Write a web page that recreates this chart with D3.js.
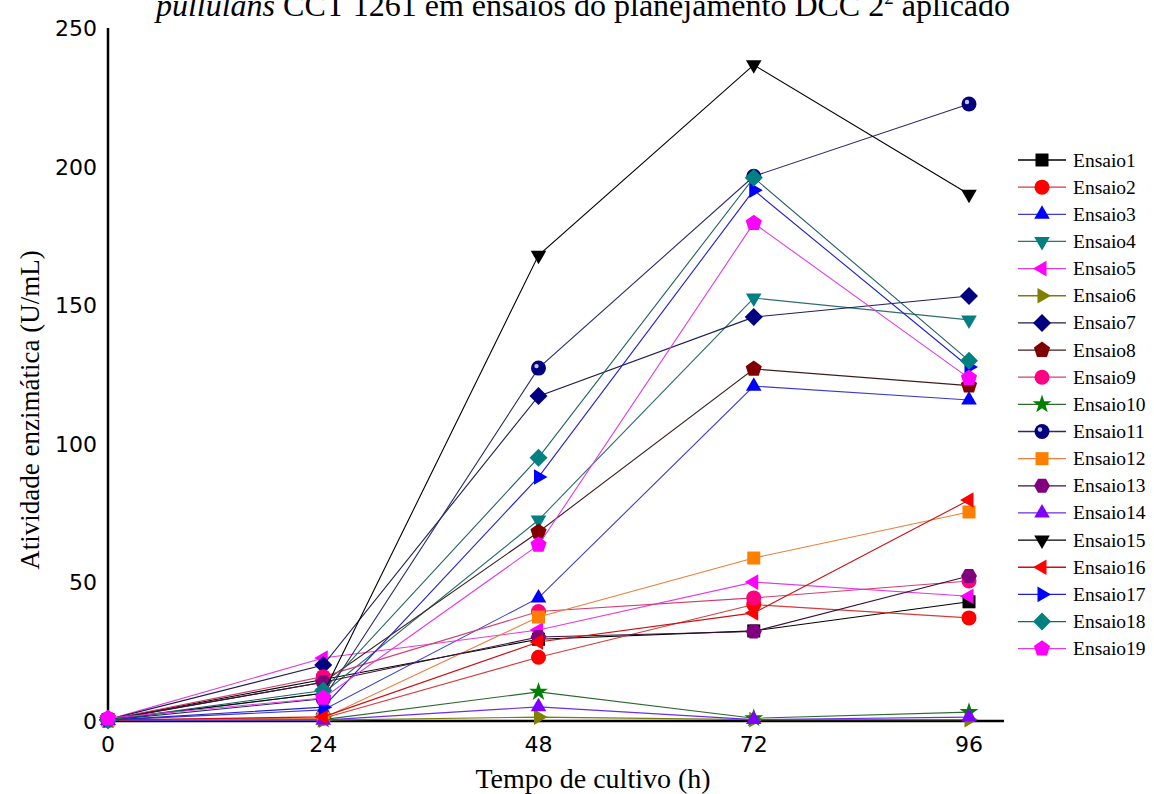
<!DOCTYPE html>
<html>
<head>
  <meta charset="utf-8">
  <title>Atividade enzimática</title>
  <style type="text/css">
    body { margin: 0; padding: 0; background: #fff; }
    svg { display: block; }
  </style>
  <script src="https://d3js.org/d3.v7.min.js"></script>
</head>
<body>
  <div id="chart"></div>
  <script>
    // tempos de cultivo (h)
    var tempos = [0, 24, 48, 72, 96];
    var yTicks = [0, 50, 100, 150, 200, 250];
    var ensaios = ["Ensaio1", "Ensaio2", "Ensaio3", "Ensaio4", "Ensaio5", "Ensaio6", "Ensaio7", "Ensaio8", "Ensaio9", "Ensaio10",
      "Ensaio11", "Ensaio12", "Ensaio13", "Ensaio14", "Ensaio15", "Ensaio16", "Ensaio17", "Ensaio18", "Ensaio19"];

    // atividade (U/mL) por ensaio
    var e1 = [0.5, 15, 29.5, 32.5, 43];
    var e2 = [0.3, 1, 23, 42, 37.2];
    var e3 = [0.3, 4, 44.4, 120.8, 115.8];
    var e4 = [0.3, 10, 72.5, 152.6, 144.7];
    var e5 = [0.5, 22.7, 32.8, 50.1, 45];
    var e6 = [0.2, 0.3, 1.4, 0.5, 0.5];
    var e7 = [0.5, 20.2, 117.2, 145.7, 153.3];
    var e8 = [0.3, 14, 68.2, 127, 121];
    var e9 = [0.5, 16, 39.5, 44.4, 50.5];
    var e10 = [0.3, 0.5, 10.5, 1, 3.2];
    var e11 = [0.3, 8, 127.3, 196.5, 222.6];
    var e12 = [0.3, 1, 37.5, 58.8, 75.4];
    var e13 = [0.5, 14, 30.3, 32.3, 52.3];
    var e14 = [0.2, 0.3, 5.1, 0.5, 1.4];
    var e15 = [0.5, 10, 168, 236.7, 190];
    var e16 = [0.3, 1.5, 28.5, 39, 79.7];
    var e17 = [0.3, 5, 88, 191.5, 127.7];
    var e18 = [0.3, 11, 95, 196, 130];
    var e19 = [1, 8.3, 63.5, 179.6, 123.7];
    var valores = [e1, e2, e3, e4, e5, e6, e7, e8, e9, e10, e11, e12, e13, e14, e15, e16, e17, e18, e19];

    var lineColors = ["#000000", "#d23c3c", "#3c3cc8", "#2e6e6e", "#e03ce0", "#7a7a10", "#1e1e50", "#3c1e1e", "#d0406e", "#2e6a2e",
      "#2a2a6a", "#e8803c", "#3c103c", "#6a2ee8", "#000000", "#c81010", "#2020d0", "#206060", "#e03ce0"];
    var markColors = ["#000000", "#ff0000", "#0000ff", "#008080", "#ff00ff", "#808000", "#000080", "#800000", "#ff0080", "#008000",
      "#000080", "#ff8000", "#800080", "#8000ff", "#000000", "#ff0000", "#0000ff", "#008080", "#ff00ff"];
    var shapes = ["square", "circle", "up", "down", "left", "right", "diamond", "pentagon", "circle", "star",
      "sphere", "square", "hexagon", "up", "down", "left", "right", "diamond", "pentagon"];

    var W = 1154, H = 794;
    var svg = d3.select("#chart").append("svg").attr("width", W).attr("height", H);

    var x = d3.scaleLinear().domain([0, 96]).range([108, 969]);
    var y = d3.scaleLinear().domain([0, 250]).range([721, 28]);

    // titulo (cortado no topo, como no original)
    svg.append("text")
      .attr("x", 583).attr("y", 16)
      .attr("text-anchor", "middle")
      .attr("font-family", "Liberation Serif, Times New Roman, serif")
      .attr("font-size", 32)
      .call(function (t) {
        t.append("tspan").attr("font-style", "italic").text("pullulans");
        t.append("tspan").text(" CCT 1261 em ensaios do planejamento DCC 2");
        t.append("tspan").attr("font-size", 19).attr("dy", -12).text("2");
        t.append("tspan").attr("dy", 12).text(" aplicado");
      });

    // eixos
    svg.append("line").attr("x1", 108).attr("x2", 108).attr("y1", 28).attr("y2", 722)
      .attr("stroke", "#000").attr("stroke-width", 2.5);
    svg.append("line").attr("x1", 107).attr("x2", 1004).attr("y1", 721).attr("y2", 721)
      .attr("stroke", "#000").attr("stroke-width", 2.5);

    svg.selectAll(".ytick").data(yTicks).join("text")
      .attr("class", "ytick")
      .attr("x", 97).attr("y", d => y(d) + 8)
      .attr("text-anchor", "end")
      .attr("font-family", "DejaVu Sans, Verdana, sans-serif")
      .attr("font-size", 22)
      .text(d => d);

    svg.selectAll(".xtick").data(tempos).join("text")
      .attr("class", "xtick")
      .attr("x", d => x(d)).attr("y", 752)
      .attr("text-anchor", "middle")
      .attr("font-family", "DejaVu Sans, Verdana, sans-serif")
      .attr("font-size", 22)
      .text(d => d);

    svg.append("text")
      .attr("x", 593).attr("y", 788)
      .attr("text-anchor", "middle")
      .attr("font-family", "Liberation Serif, Times New Roman, serif")
      .attr("font-size", 28)
      .text("Tempo de cultivo (h)");

    svg.append("text")
      .attr("transform", "translate(39,410) rotate(-90)")
      .attr("text-anchor", "middle")
      .attr("font-family", "Liberation Serif, Times New Roman, serif")
      .attr("font-size", 27)
      .text("Atividade enzimática (U/mL)");

    // simbolos
    function polygon(n, r, rot) {
      var pts = [];
      for (var i = 0; i < n; i++) {
        var a = rot + i * 2 * Math.PI / n;
        pts.push([r * Math.cos(a), r * Math.sin(a)]);
      }
      return "M" + pts.map(p => p.join(",")).join("L") + "Z";
    }
    function tri(dir) {
      var base = { up: -Math.PI / 2, down: Math.PI / 2, left: Math.PI, right: 0 }[dir];
      return polygon(3, 9, base);
    }
    function drawMark(g, shape, fill) {
      if (shape === "square") {
        g.append("rect").attr("x", -6.5).attr("y", -6.5).attr("width", 13).attr("height", 13).attr("fill", fill);
      } else if (shape === "circle" || shape === "sphere") {
        g.append("circle").attr("r", 7.5).attr("fill", fill);
        if (shape === "sphere") {
          g.append("circle").attr("cx", -2).attr("cy", -2).attr("r", 2.2).attr("fill", "#c8c8f0");
        }
      } else if (shape === "diamond") {
        g.append("path").attr("d", polygon(4, 9, -Math.PI / 2)).attr("fill", fill);
      } else if (shape === "pentagon") {
        g.append("path").attr("d", polygon(5, 8.5, -Math.PI / 2)).attr("fill", fill);
      } else if (shape === "hexagon") {
        g.append("path").attr("d", polygon(6, 8, 0)).attr("fill", fill);
      } else if (shape === "star") {
        g.append("path").attr("d", d3.symbol(d3.symbolStar, 110)()).attr("fill", fill);
      } else {
        g.append("path").attr("d", tri(shape)).attr("fill", fill);
      }
    }

    var line = d3.line().x((d, i) => x(tempos[i])).y(d => y(d));

    valores.forEach(function (serie, k) {
      var g = svg.append("g").attr("class", "serie");
      g.append("path")
        .attr("d", line(serie))
        .attr("fill", "none")
        .attr("stroke", lineColors[k])
        .attr("stroke-width", 1.1);
      g.selectAll("g.pt").data(serie).join("g")
        .attr("class", "pt")
        .attr("transform", (d, i) => "translate(" + x(tempos[i]) + "," + y(d) + ")")
        .each(function () { drawMark(d3.select(this), shapes[k], markColors[k]); });
    });

    // legenda
    var leg = svg.append("g").attr("class", "legend");
    ensaios.forEach(function (nome, k) {
      var yy = 160 + k * 27.15;
      leg.append("line").attr("x1", 1018).attr("x2", 1066).attr("y1", yy).attr("y2", yy)
        .attr("stroke", lineColors[k]).attr("stroke-width", 1.3);
      var m = leg.append("g").attr("transform", "translate(1042," + yy + ")");
      drawMark(m, shapes[k], markColors[k]);
      leg.append("text")
        .attr("x", 1073).attr("y", yy + 6.5)
        .attr("font-family", "Liberation Serif, Times New Roman, serif")
        .attr("font-size", 19.5)
        .text(nome);
    });
  </script>
</body>
</html>
